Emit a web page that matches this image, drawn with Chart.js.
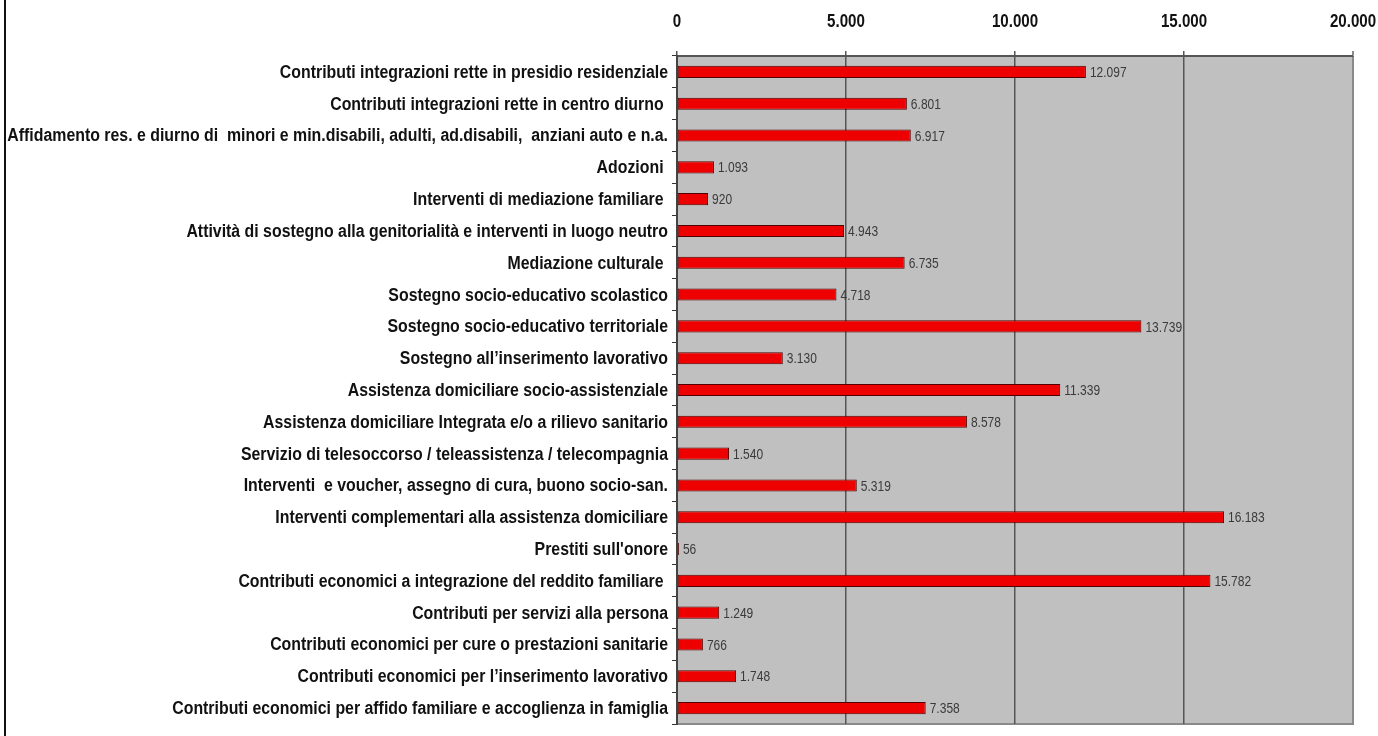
<!DOCTYPE html>
<html><head><meta charset="utf-8">
<script src="https://cdn.jsdelivr.net/npm/chart.js@4.4.1/dist/chart.umd.min.js"></script>
<style>html,body{margin:0;padding:0;background:#fff;}#wrap{width:1378px;height:736px;position:relative;}</style>
</head><body><div id="wrap"><canvas id="c" width="1378" height="736"></canvas></div>
<script>
const categories = [
  "Contributi integrazioni rette in presidio residenziale",
  "Contributi integrazioni rette in centro diurno ",
  "Affidamento res. e diurno di  minori e min.disabili, adulti, ad.disabili,  anziani auto e n.a.",
  "Adozioni ",
  "Interventi di mediazione familiare ",
  "Attività di sostegno alla genitorialità e interventi in luogo neutro",
  "Mediazione culturale ",
  "Sostegno socio-educativo scolastico",
  "Sostegno socio-educativo territoriale",
  "Sostegno all\u2019inserimento lavorativo",
  "Assistenza domiciliare socio-assistenziale",
  "Assistenza domiciliare Integrata e/o a rilievo sanitario",
  "Servizio di telesoccorso / teleassistenza / telecompagnia",
  "Interventi  e voucher, assegno di cura, buono socio-san.",
  "Interventi complementari alla assistenza domiciliare",
  "Prestiti sull'onore",
  "Contributi economici a integrazione del reddito familiare ",
  "Contributi per servizi alla persona",
  "Contributi economici per cure o prestazioni sanitarie",
  "Contributi economici per l\u2019inserimento lavorativo",
  "Contributi economici per affido familiare e accoglienza in famiglia"
];
const values = [12097, 6801, 6917, 1093, 920, 4943, 6735, 4718, 13739, 3130, 11339, 8578, 1540, 5319, 16183, 56, 15782, 1249, 766, 1748, 7358];
const xTicks = [0, 5000, 10000, 15000, 20000];

function fmt(v){ return String(Math.round(v)).replace(/\B(?=(\d{3})+(?!\d))/g, '.'); }

const FONT = '"Liberation Sans", Arial, sans-serif';

function narrowText(ctx, text, x, y, align, font, color, sx){
  ctx.save();
  ctx.translate(x, y);
  ctx.scale(sx, 1);
  ctx.font = font;
  ctx.fillStyle = color;
  ctx.textAlign = align;
  ctx.textBaseline = 'middle';
  ctx.fillText(text, 0, 0);
  ctx.restore();
}

const decor = {
  id: 'decor',
  beforeDraw(chart){
    const ctx = chart.ctx, a = chart.chartArea;
    ctx.save();
    ctx.fillStyle = '#fff';
    ctx.fillRect(0,0,chart.width,chart.height);
    ctx.fillStyle = '#c0c0c0';
    ctx.fillRect(a.left, a.top, a.right-a.left, a.bottom-a.top);
    ctx.strokeStyle = '#8a8a8a';
    ctx.lineWidth = 2;
    ctx.beginPath();
    ctx.moveTo(a.right, a.top); ctx.lineTo(a.right, a.bottom); ctx.lineTo(a.left, a.bottom);
    ctx.stroke();
    ctx.fillStyle = '#111';
    ctx.fillRect(4, 0, 2, chart.height);
    ctx.restore();
  },
  afterDraw(chart){
    const ctx = chart.ctx;
    const xs = chart.scales.x, ys = chart.scales.y;
    categories.forEach((lab, i) => {
      narrowText(ctx, lab, ys.right - 9, ys.getPixelForTick(i) + 1, 'right', 'bold 18px ' + FONT, '#111', 0.882);
    });
    xTicks.forEach(v => {
      narrowText(ctx, fmt(v), xs.getPixelForValue(v), 22, 'center', 'bold 18px ' + FONT, '#111', 0.84);
    });
    const meta = chart.getDatasetMeta(0);
    meta.data.forEach((bar, i) => {
      narrowText(ctx, fmt(values[i]), bar.x + 4, bar.y + 1, 'left', '15px ' + FONT, '#3a3a3a', 0.8);
    });
  }
};

new Chart(document.getElementById('c'), {
  type: 'bar',
  data: {
    labels: categories,
    datasets: [{
      data: values,
      backgroundColor: '#ee0000',
      borderColor: '#500000',
      borderWidth: 1,
      borderSkipped: false,
      barPercentage: 0.38,
      categoryPercentage: 1
    }]
  },
  options: {
    indexAxis: 'y',
    responsive: false,
    animation: false,
    layout: { padding: { left: 0, right: 25, top: 0, bottom: 12 } },
    plugins: { legend: { display: false }, tooltip: { enabled: false } },
    scales: {
      x: {
        position: 'top',
        min: 0, max: 20000,
        afterBuildTicks(scale){ scale.ticks = xTicks.map(v => ({ value: v })); },
        afterFit(scale){ scale.height = 56; scale.paddingLeft = 0; scale.paddingRight = 0; },
        ticks: {
          callback: v => fmt(v),
          font: { family: FONT, size: 12 },
          color: 'rgba(0,0,0,0)',
          padding: 16,
          maxRotation: 0
        },
        grid: {
          color: ctx => (ctx.tick && ctx.tick.value === 20000) ? '#8a8a8a' : '#555',
          lineWidth: ctx => (ctx.tick && ctx.tick.value === 20000) ? 2 : 1.5,
          tickLength: 5,
          drawTicks: true
        },
        border: { display: true, color: '#555', width: 2 }
      },
      y: {
        afterFit(scale){ scale.width = 677; scale.paddingTop = 0; scale.paddingBottom = 0; },
        ticks: {
          font: { family: FONT, size: 10 },
          color: 'rgba(0,0,0,0)',
          padding: 4,
          autoSkip: false
        },
        grid: {
          drawOnChartArea: false,
          drawTicks: true,
          tickLength: 5,
          color: '#333',
          offset: true
        },
        border: { display: true, color: '#444', width: 2 }
      }
    }
  },
  plugins: [decor]
});
</script>
</body></html>
